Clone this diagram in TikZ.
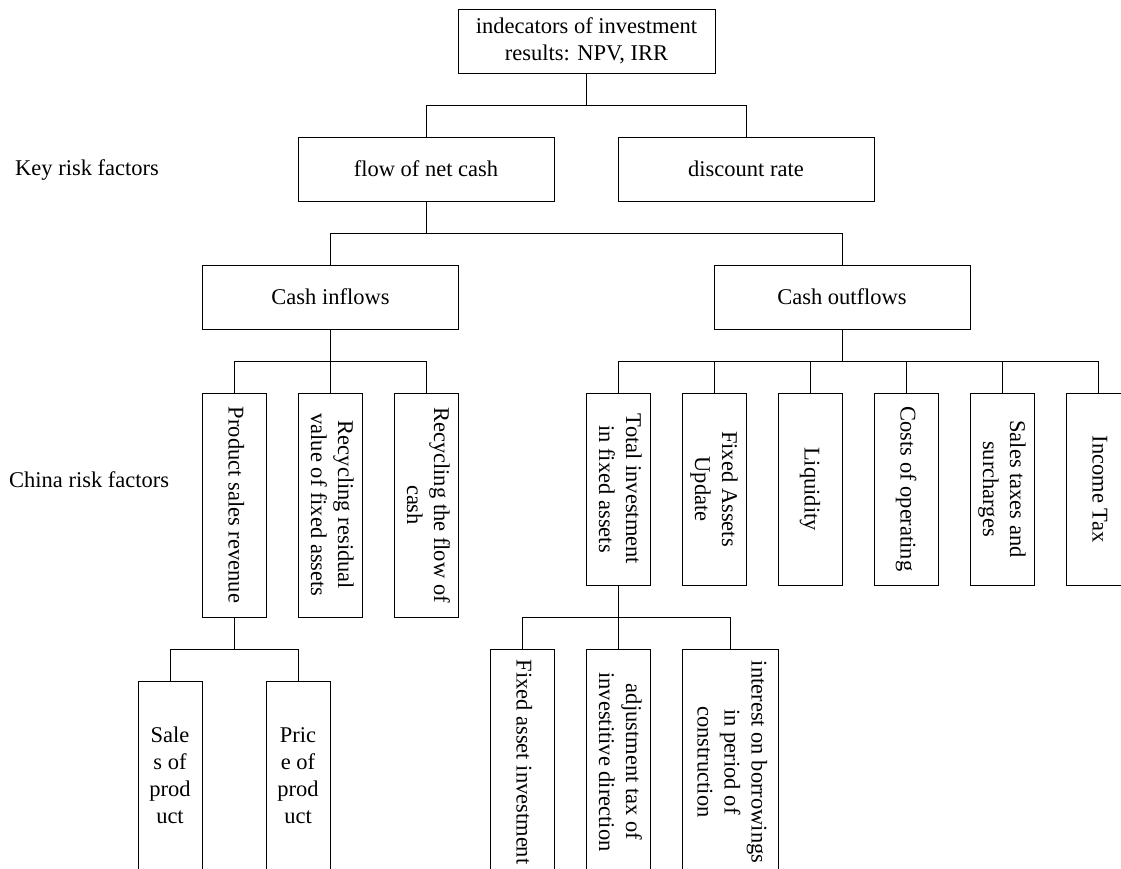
\documentclass[tikz,border=0pt]{standalone}
\usepackage{fontspec}
\usepackage{graphicx}
\setmainfont{Liberation Serif}
\newcommand{\vtxt}[1]{\rotatebox{-90}{\begin{tabular}{@{}c@{}}#1\end{tabular}}}
\newcommand{\htxt}[1]{\begin{tabular}{@{}c@{}}#1\end{tabular}}
\tikzset{
  bx/.style={draw=black, line width=0.9pt, inner sep=0pt, minimum width=256pt, minimum height=64pt, align=center},
  tallbx/.style={draw=black, line width=0.9pt, inner sep=0pt, minimum width=64pt},
  lbl/.style={inner sep=0pt, anchor=base west},
  link/.style={draw=black, line width=0.9pt}
}
\begin{document}
\begin{tikzpicture}[x=1pt, y=-1pt, font=\fontsize{22.5}{27}\selectfont]
\useasboundingbox (0,0) rectangle (1121,868);
\clip (0,0) rectangle (1121,868);
% level 0
\node[bx, minimum width=257pt] (top) at (586.5,41) {indecators of investment\\results: NPV, IRR};
% level 1
\node[bx] (flow) at (426,169) {flow of net cash};
\node[bx] (disc) at (746,169) {discount rate};
\node[lbl] (keylbl) at (15,175) {Key risk factors};
% level 2
\node[bx] (inflow) at (330.5,297) {Cash inflows};
\node[bx] (outflow) at (842,297) {Cash outflows};
% level 3 (inflows)
\node[tallbx, minimum height=224pt] (psr) at (234,505) {\vtxt{Product sales revenue}};
\node[tallbx, minimum height=224pt] (rrv) at (330,505) {\vtxt{Recycling residual\\value of fixed assets}};
\node[tallbx, minimum height=224pt] (rfc) at (426,505) {\vtxt{Recycling the flow of\\cash}};
\node[lbl] (chinalbl) at (9,487) {China risk factors};
% level 3 (outflows)
\node[tallbx, minimum height=192pt] (tifa) at (618,489) {\vtxt{Total investment\\in fixed assets}};
\node[tallbx, minimum height=192pt] (fau) at (714,489) {\vtxt{Fixed Assets\\Update}};
\node[tallbx, minimum height=192pt] (liq) at (810,489) {\vtxt{Liquidity}};
\node[tallbx, minimum height=192pt] (coo) at (906,489) {\vtxt{Costs of operating}};
\node[tallbx, minimum height=192pt] (sts) at (1002,489) {\vtxt{Sales taxes and\\surcharges}};
\node[tallbx, minimum height=192pt] (itx) at (1098,489) {\vtxt{Income Tax}};
% level 4
\node[tallbx, minimum height=194pt] (sop) at (170,778) {\htxt{Sale\\s of\\prod\\uct}};
\node[tallbx, minimum height=194pt] (pop) at (298,778) {\htxt{Pric\\e of\\prod\\uct}};
\node[tallbx, minimum height=226pt] (fai) at (522,762) {\vtxt{Fixed asset investment}};
\node[tallbx, minimum height=226pt] (atx) at (618,762) {\vtxt{adjustment tax of\\investitive direction}};
\node[tallbx, minimum height=226pt, minimum width=96pt] (iob) at (730,762) {\vtxt{interest on borrowings\\in period of\\construction}};
% junctions
\coordinate (j0) at (586.5,105);
\coordinate (j1) at (426,233);
\coordinate (j2) at (330.5,361);
\coordinate (j3) at (842,361);
\coordinate (j4) at (234,649);
\coordinate (j5) at (618,617);
% connectors
\draw[link] (top.south) -- (j0);
\draw[link] (j0) -| (flow.north);
\draw[link] (j0) -| (disc.north);
\draw[link] (flow.south) -- (j1);
\draw[link] (j1) -| (inflow.north);
\draw[link] (j1) -| (outflow.north);
\draw[link] (inflow.south) -- (j2);
\draw[link] (j2) -| (psr.north);
\draw[link] (j2) -| (rrv.north);
\draw[link] (j2) -| (rfc.north);
\draw[link] (outflow.south) -- (j3);
\draw[link] (j3) -| (tifa.north);
\draw[link] (j3) -| (fau.north);
\draw[link] (j3) -| (liq.north);
\draw[link] (j3) -| (coo.north);
\draw[link] (j3) -| (sts.north);
\draw[link] (j3) -| (itx.north);
\draw[link] (psr.south) -- (j4);
\draw[link] (j4) -| (sop.north);
\draw[link] (j4) -| (pop.north);
\draw[link] (tifa.south) -- (j5);
\draw[link] (j5) -| (fai.north);
\draw[link] (j5) -| (atx.north);
\draw[link] (j5) -| (iob.north);
\end{tikzpicture}
\end{document}
